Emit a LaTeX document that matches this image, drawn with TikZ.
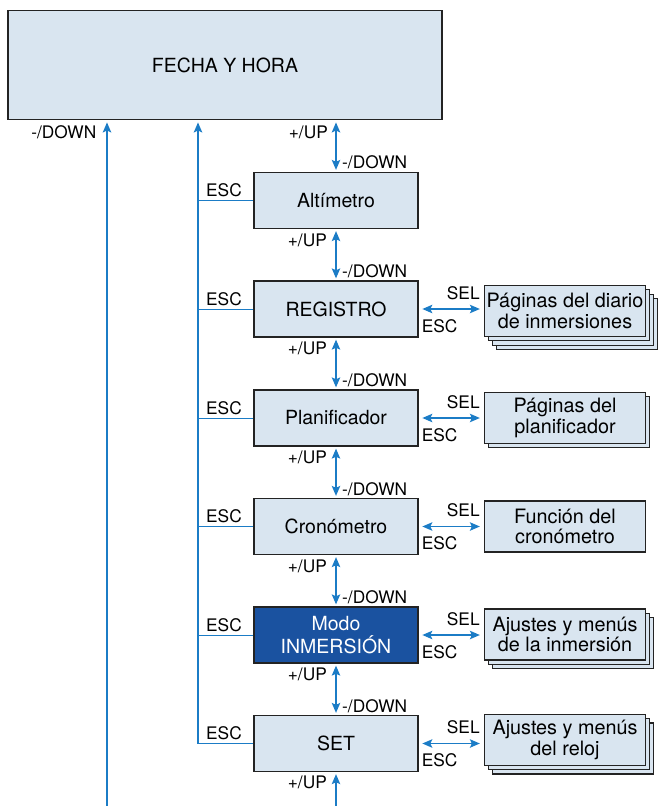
\documentclass[tikz,border=0pt]{standalone}
\usepackage{fontspec}
\setmainfont{TeX Gyre Heros}
\usetikzlibrary{arrows.meta,calc}
\definecolor{boxfill}{RGB}{217,229,240}
\definecolor{arrowblue}{RGB}{27,124,198}
\definecolor{darkblue}{RGB}{26,82,160}
\definecolor{boxline}{RGB}{35,35,35}
\begin{document}
\begin{tikzpicture}[x=1pt,y=-1pt,
  topbox/.style={draw=boxline,line width=1.3pt,fill=boxfill,minimum width=434pt,minimum height=109pt,inner sep=0pt,font=\fontsize{19.5}{23}\selectfont},
  mainbox/.style={draw=boxline,line width=1.3pt,fill=boxfill,minimum width=164pt,minimum height=56pt,inner sep=0pt,align=center,font=\fontsize{19.5}{23.5}\selectfont},
  subbox/.style={draw=boxline,line width=1.3pt,fill=boxfill,minimum width=161pt,minimum height=51pt,inner sep=0pt,align=center,font=\fontsize{19.8}{20.5}\selectfont},
  lbl/.style={inner sep=0pt,font=\fontsize{17.3}{19}\selectfont},
  flow/.style={draw=arrowblue,line width=1.3pt},
  escline/.style={draw=arrowblue,line width=1pt},
  hd/.tip={Stealth[length=10pt,width=8.5pt,inset=2pt]}
]
\useasboundingbox (0,0) rectangle (658,806);

% top box
\node[topbox] (top) at (225,65.3) {FECHA Y HORA};

% main column
\node[mainbox] (alt) at (336,200.5) {Altímetro};
\node[mainbox] (reg) at (336,309) {REGISTRO};
\node[mainbox] (plan) at (336,418) {Planificador};
\node[mainbox] (cron) at (336,526.5) {Cronómetro};
\node[mainbox,fill=darkblue,text=white] (modo) at (336,635) {Modo\\INMERSIÓN};
\node[mainbox] (set) at (336,743.5) {SET};

% sub boxes (stacks, back to front)
\node[subbox] (regL3) at (577,324) {};
\node[subbox] (regL2) at (573,319.7) {};
\node[subbox] (regL1) at (569,315.3) {};
\node[subbox] (regsub) at (565,311) {Páginas del diario\\de inmersiones};

\node[subbox] (planL1) at (569,422.3) {};
\node[subbox] (plansub) at (565,418) {Páginas del\\planificador};

\node[subbox] (cronsub) at (565,526.5) {Función del\\cronómetro};

\node[subbox] (modoL2) at (573,643.2) {};
\node[subbox] (modoL1) at (569,638.8) {};
\node[subbox] (modosub) at (565,634.5) {Ajustes y menús\\de la inmersión};

\node[subbox] (setL2) at (573,748.5) {};
\node[subbox] (setL1) at (569,744.3) {};
\node[subbox] (setsub) at (565,740) {Ajustes y menús\\del reloj};

% helper coordinates
\coordinate (far) at (107,0);
\coordinate (bus) at (198,0);
\coordinate (bot) at (0,806);

% left long arrow (-/DOWN)
\draw[flow,-{hd},shorten >=2pt] (far |- bot) -- (far |- top.south);
\node[lbl,anchor=east] at ($(far |- top.south)+(-10.5,12)$) {-/DOWN};

% ESC bus
\draw[flow,-{hd},shorten >=2pt] (set.west -| bus) -- (top.south -| bus);
\foreach \n in {alt,reg,plan,cron,modo,set}{
  \draw[escline] (\n.west -| bus) -- (\n.west);
  \node[lbl,anchor=west] at ($(\n.west -| bus)+(8,-10)$) {ESC};
}

% vertical double arrows
\draw[flow,{hd}-{hd},shorten <=2pt,shorten >=2pt] (top.south -| alt.north) -- (alt.north);
\node[lbl,anchor=east] at ($(top.south -| alt.north)+(-8,12)$) {+/UP};
\node[lbl,anchor=west] at ($(alt.north)+(6,-10)$) {-/DOWN};

\foreach \a/\b in {alt/reg,reg/plan,plan/cron,cron/modo,modo/set}{
  \draw[flow,{hd}-{hd},shorten <=2pt,shorten >=2pt] (\a.south) -- (\b.north);
  \node[lbl,anchor=east] at ($(\a.south)+(-9,11)$) {+/UP};
  \node[lbl,anchor=west] at ($(\b.north)+(6,-9)$) {-/DOWN};
}

\draw[flow,-{hd},shorten >=2pt] (set.south |- bot) -- (set.south);
\node[lbl,anchor=east] at ($(set.south)+(-9,10)$) {+/UP};

% horizontal SEL/ESC arrows
\foreach \a/\b in {reg/regsub,plan/plansub,cron/cronsub,modo/modosub,set/setsub}{
  \draw[flow,{hd}-{hd},shorten <=3.7pt,shorten >=4pt] (\a.east) -- (\a.east -| \b.west);
  \node[lbl,anchor=east] at ($(\a.east -| \b.west)+(-4,-16)$) {SEL};
  \node[lbl,anchor=west] at ($(\a.east)+(3,17)$) {ESC};
}
\end{tikzpicture}
\end{document}
